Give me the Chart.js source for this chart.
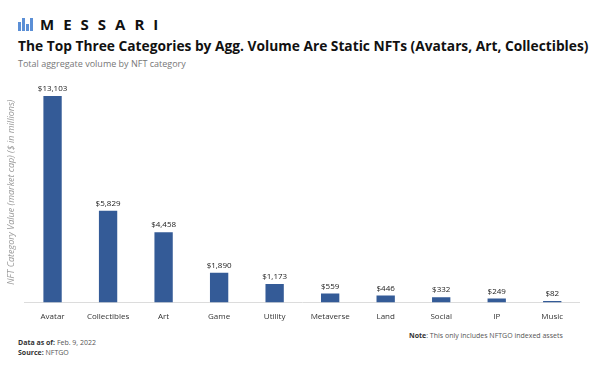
<!DOCTYPE html>
<html>
<head>
<meta charset="utf-8">
<script src="https://cdn.jsdelivr.net/npm/chart.js@4"></script>
<style>
  body { margin: 0; width: 612px; height: 365px; background: #fff; font-family: 'Open Sans', sans-serif; position: relative; overflow: hidden; }
  .logo { position: absolute; left: 18px; top: 15px; height: 18px; display: flex; align-items: center; }
  .logo .icon { display: flex; align-items: flex-end; height: 13px; margin-right: 6px; }
  .logo .icon span { display: block; width: 3px; background: #5b8fd6; margin-right: 1px; }
  .logo .word { font-family: 'Open Sans', sans-serif; font-weight: 700; font-size: 15px; letter-spacing: 9px; color: #111; }
  .title { position: absolute; left: 18px; top: 36px; font-weight: 700; font-size: 13.75px; color: #111; white-space: nowrap; }
  .sub { position: absolute; left: 18px; top: 57px; font-size: 9px; color: #777; }
  .foot { position: absolute; font-size: 7px; color: #555; line-height: 10px; }
  .foot b { color: #333; }
  #wrap { position: absolute; left: 0; top: 82px; width: 580px; height: 242px; }
</style>
</head>
<body>
<div class="logo">
  <div class="icon"><span style="height:9px"></span><span style="height:13px"></span><span style="height:7px"></span><span style="height:13px"></span></div>
  <div class="word">MESSARI</div>
</div>
<div class="title">The Top Three Categories by Agg. Volume Are Static NFTs (Avatars, Art, Collectibles)</div>
<div class="sub">Total aggregate volume by NFT category</div>
<div id="wrap"><canvas id="chart"></canvas></div>
<div class="foot" style="left:18px; top:338px;"><b>Data as of:</b> Feb. 9, 2022<br><b>Source:</b> NFTGO</div>
<div class="foot" style="left:409px; top:331px;"><b>Note</b>: This only includes NFTGO indexed assets</div>
<script>
// Volumen agregado por categoría NFT ($ millones)
const categorias = ['Avatar','Collectibles','Art','Game','Utility','Metaverse','Land','Social','IP','Music'];
const volumen = [13103, 5829, 4458, 1890, 1173, 559, 446, 332, 249, 82];

const fmt = v => '$' + v.toLocaleString('en-US');

// etiquetas encima de cada barra
const etiquetas = {
  id: 'etiquetas',
  afterDatasetsDraw(chart) {
    const { ctx } = chart;
    const meta = chart.getDatasetMeta(0);
    ctx.save();
    ctx.font = "8px 'Open Sans', sans-serif";
    ctx.fillStyle = '#222';
    ctx.textAlign = 'center';
    ctx.textBaseline = 'bottom';
    meta.data.forEach((bar, i) => ctx.fillText(fmt(volumen[i]), bar.x, bar.y - 3));
    ctx.restore();
  }
};

new Chart(document.getElementById('chart'), {
  type: 'bar',
  data: { labels: categorias, datasets: [{ data: volumen, backgroundColor: '#345b97', categoryPercentage: 1, barPercentage: 0.33 }] },
  options: {
    responsive: true, maintainAspectRatio: false, animation: false,
    layout: { padding: { left: 6, right: 0, top: 0, bottom: 0 } },
    scales: {
      x: {
        grid: { display: false }, border: { color: '#dcdcdc' },
        ticks: { color: '#333', font: { size: 8, family: "'Open Sans', sans-serif" }, padding: 2, maxRotation: 0 }
      },
      y: {
        min: 0, max: 14000,
        grid: { display: false }, border: { display: false },
        ticks: { display: false },
        title: { display: true, text: 'NFT Category Value (market cap) ($ in millions)', color: '#999', padding: { top: 0, bottom: 0 },
                 font: { size: 9, style: 'italic', family: "'Open Sans', sans-serif" } }
      }
    },
    plugins: { legend: { display: false }, tooltip: { enabled: false } }
  },
  plugins: [etiquetas]
});
</script>
</body>
</html>
